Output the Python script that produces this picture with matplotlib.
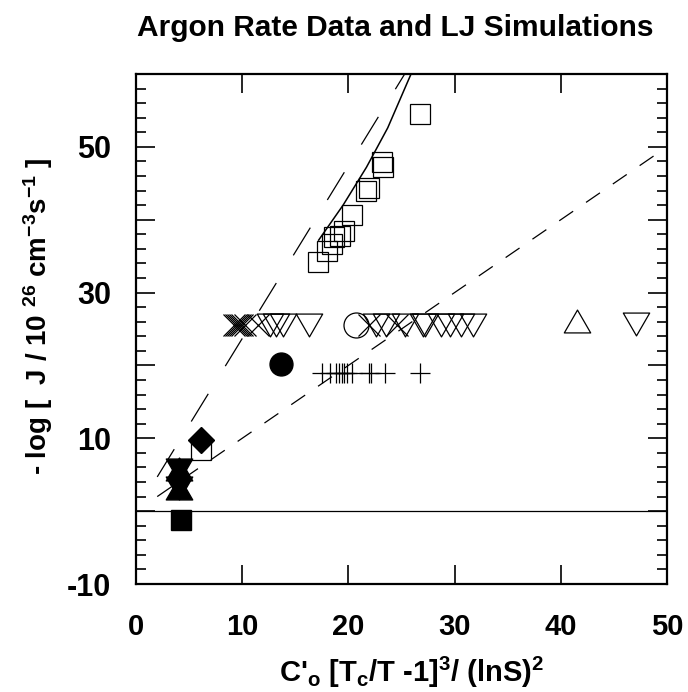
import numpy as np
import matplotlib
matplotlib.use('Agg')
import matplotlib.pyplot as plt
from matplotlib.ticker import MultipleLocator, FixedLocator
from matplotlib.path import Path

plt.rcParams['font.family'] = ['Liberation Sans', 'DejaVu Sans']
plt.rcParams['font.weight'] = 'bold'
plt.rcParams['mathtext.fontset'] = 'custom'
plt.rcParams['mathtext.rm'] = 'Liberation Sans:bold'
plt.rcParams['mathtext.it'] = 'Liberation Sans:bold'
plt.rcParams['mathtext.bf'] = 'Liberation Sans:bold'
plt.rcParams['mathtext.default'] = 'bf'

# ---------------- data ----------------
open_sq_x = [26.7, 23.2, 23.3, 21.9, 21.7, 20.3, 19.6, 19.2, 18.6, 18.5, 18.0, 17.1, 6.15]
open_sq_y = [54.5, 47.9, 47.3, 44.4, 44.0, 40.6, 38.4, 37.8, 37.6, 36.7, 35.7, 34.2, 8.45]

open_dtri_x = [12.6, 13.2, 13.8, 16.3, 22.6, 23.5, 25.3, 27.0, 27.2, 28.7, 29.6, 30.6, 31.7, 47.1]
open_dtri_y = [25.6] * 13 + [25.7]

open_utri_x = [41.5]
open_utri_y = [26.1]

cross_x = [9.2, 9.4, 9.6, 9.8, 10.0, 10.3, 11.5, 21.9, 24.6]
cross_y = [25.6] * 9

open_circ_x = [20.7]
open_circ_y = [25.6]

plus_x = [17.5, 18.3, 18.8, 19.1, 19.4, 19.6, 19.9, 20.3, 21.9, 22.1, 23.4, 26.7]
plus_y = [18.9] * 12

fill_circ_x = [13.7]
fill_circ_y = [20.2]

fill_diam_x = [6.15]
fill_diam_y = [9.8]

fill_dtri_x = [4.05, 4.05]
fill_dtri_y = [5.7, 3.2]
fill_utri_x = [4.05, 4.05]
fill_utri_y = [5.8, 3.2]

fill_sq_x = [4.2]
fill_sq_y = [-1.2]

steep_dash_x = [2.0, 25.3]
steep_dash_y = [4.7, 60.0]

short_dash_x = [2.0, 50.0]
short_dash_y = [2.0, 50.0]

solid_x = [17.2, 19.5, 21.7, 23.7, 25.6, 26.2]
solid_y = [37.2, 42.0, 47.2, 52.6, 59.0, 61.0]

zero_x = [0, 50]
zero_y = [0, 0]

x_ticks = [0, 10, 20, 30, 40, 50]
y_tick_labels = [-10, 10, 30, 50]

# ---------------- figure ----------------
W, H = 688, 692
fig = plt.figure(figsize=(W / 100, H / 100), dpi=100)
L, R, T, B = 136, 667, 74, 584
ax = fig.add_axes([L / W, 1 - B / H, (R - L) / W, (B - T) / H])

dtri = Path([(-1, 0.866), (1, 0.866), (0, -0.866), (-1, 0.866)],
            [Path.MOVETO, Path.LINETO, Path.LINETO, Path.CLOSEPOLY])
utri = Path([(-1, -0.866), (1, -0.866), (0, 0.866), (-1, -0.866)],
            [Path.MOVETO, Path.LINETO, Path.LINETO, Path.CLOSEPOLY])

lw = 0.9
ax.plot(zero_x, zero_y, color='black', lw=lw)
ax.plot(steep_dash_x, steep_dash_y, color='black', lw=lw, dashes=(26, 26))
ax.plot(short_dash_x, short_dash_y, color='black', lw=lw, dashes=(13.5, 12.5))
ax.plot(solid_x, solid_y, color='black', lw=1.1)

mk = dict(ls='none', color='black', mec='black')
ax.plot(open_sq_x, open_sq_y, marker='s', ms=14, mfc='none', mew=0.9, **mk)
ax.plot(open_dtri_x, open_dtri_y, marker=dtri, ms=19, mfc='none', mew=0.9, **mk)
ax.plot(open_utri_x, open_utri_y, marker=utri, ms=19, mfc='none', mew=0.9, **mk)
ax.plot(cross_x, cross_y, marker='x', ms=15.5, mew=0.9, **mk)
ax.plot(open_circ_x, open_circ_y, marker='o', ms=18, mfc='none', mew=0.9, **mk)
ax.plot(plus_x, plus_y, marker='+', ms=15, mew=0.9, **mk)
ax.plot(fill_circ_x, fill_circ_y, marker='o', ms=16.5, mfc='black', **mk)
ax.plot(fill_diam_x, fill_diam_y, marker='D', ms=13.6, mfc='black', **mk)
ax.plot(fill_dtri_x, fill_dtri_y, marker=dtri, ms=19, mfc='black', **mk)
ax.plot(fill_utri_x, fill_utri_y, marker=utri, ms=19, mfc='black', **mk)
ax.plot(fill_sq_x, fill_sq_y, marker='s', ms=14.4, mfc='black', **mk)

ax.set_xlim(0, 50)
ax.set_ylim(-10, 60)

ax.xaxis.set_major_locator(FixedLocator(x_ticks))
ax.yaxis.set_minor_locator(MultipleLocator(2))
ax.set_yticks(list(range(-10, 61, 10)))
ax.set_yticklabels([str(v) if v in y_tick_labels else '' for v in range(-10, 61, 10)])

ax.tick_params(which='both', direction='in', top=True, right=True, width=1.2)
ax.tick_params(which='major', length=14)
ax.tick_params(which='minor', length=7)
ax.tick_params(axis='x', labelsize=21, pad=21)
ax.tick_params(axis='y', labelsize=22, pad=18)
for lab in ax.get_xticklabels() + ax.get_yticklabels():
    lab.set_fontweight('bold')
for s in ax.spines.values():
    s.set_linewidth(1.6)

fig.text(395 / W, 1 - 36 / H, 'Argon Rate Data and LJ Simulations',
         ha='center', va='baseline', fontsize=21.5, fontweight='bold')
fig.text(412 / W, 1 - 682 / H, r"C'$_{o}$ [T$_{c}$/T -1]$^{3}$/ (lnS)$^{2}$",
         ha='center', va='baseline', fontsize=21, fontweight='bold')
fig.text(47 / W, 1 - 316 / H, r"- log [  J / 10 $^{26}$ cm$^{-3}$s$^{-1}$ ]",
         ha='center', va='baseline', rotation=90, rotation_mode='anchor',
         fontsize=20, fontweight='bold')

fig.savefig('out.png', dpi=100)
